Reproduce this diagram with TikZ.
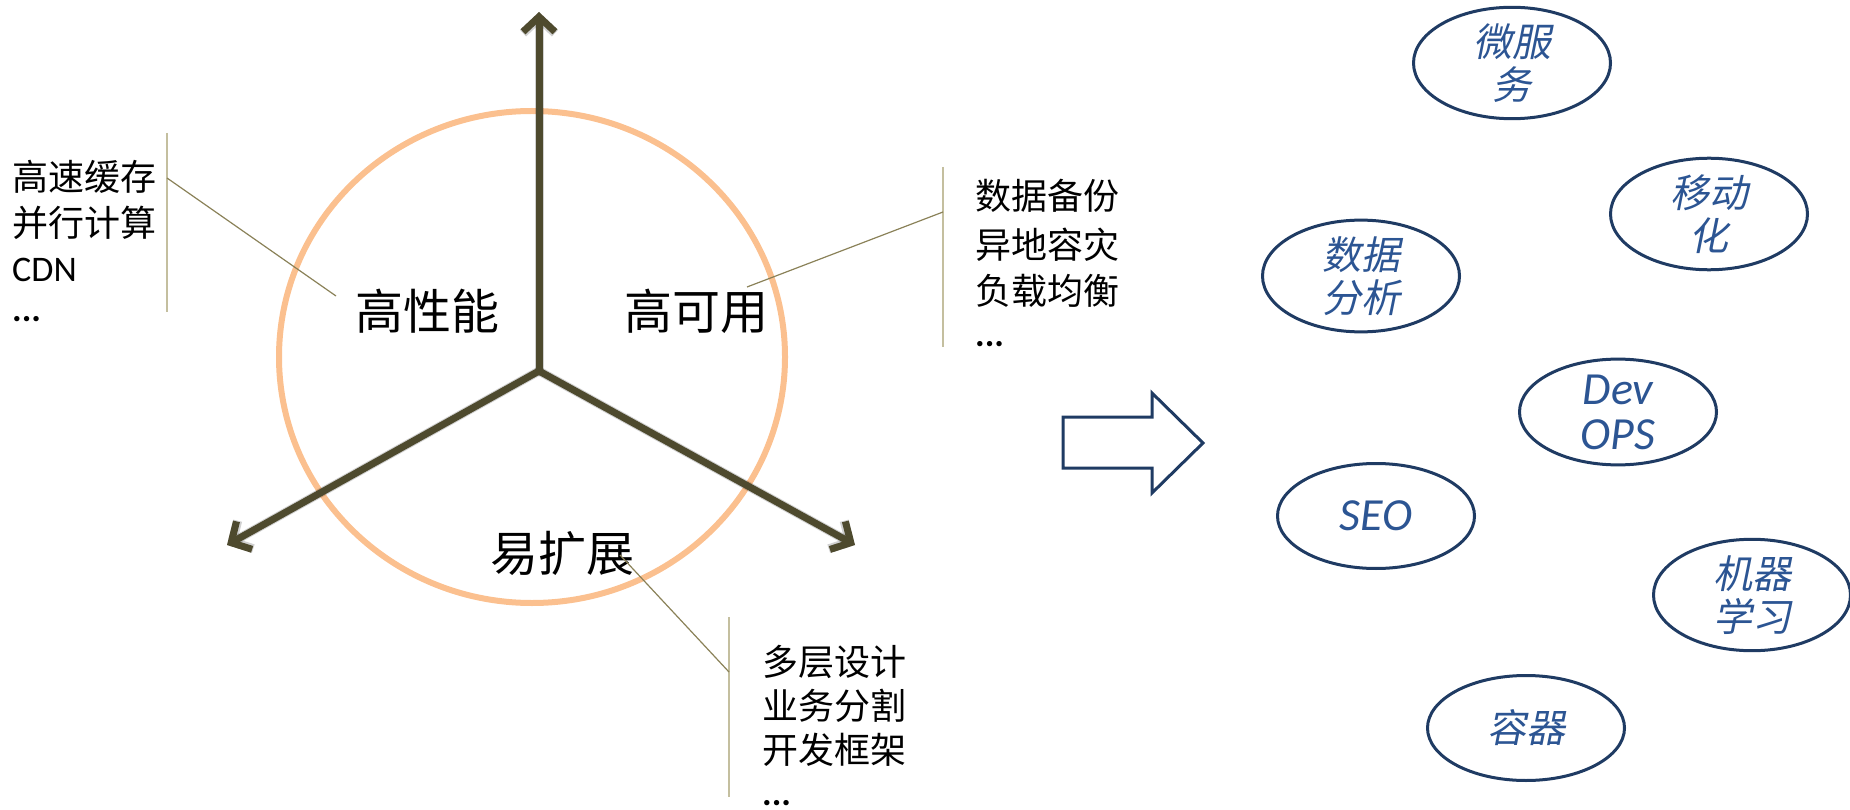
\documentclass[tikz,border=0pt]{standalone}
\usepackage{fontspec}
\setmainfont{Noto Sans CJK SC}
\newfontfamily\calfont{Carlito}
\newfontfamily\cjkit[FakeSlant=0.2]{Noto Sans CJK SC}
\usetikzlibrary{arrows.meta,shapes.geometric}
\definecolor{axiscol}{HTML}{4E4A2E}
\definecolor{ringcol}{HTML}{FBC08F}
\definecolor{barcol}{HTML}{C4BF9F}
\definecolor{conncol}{HTML}{8A8158}
\definecolor{ovalcol}{HTML}{1F3B63}
\definecolor{ovaltext}{HTML}{2C5593}
\tikzset{
  axisline/.style={draw=axiscol, line width=7pt, line cap=round, line join=round,
    -{Straight Barb[length=15pt, width=32pt, line width=7pt]}},
  axisshadow/.style={draw=black, opacity=0.18, line width=9pt, line cap=round,
    -{Straight Barb[length=15pt, width=32pt, line width=9pt]}},
  ring/.style={draw=ringcol, line width=6pt},
  barline/.style={draw=barcol, line width=2pt},
  connline/.style={draw=conncol, line width=1.2pt},
  biglabel/.style={inner sep=0pt, font=\fontsize{48}{56}\selectfont},
  listcjk/.style={inner sep=0pt, anchor=west, font=\fontsize{36}{44}\selectfont},
  listlat/.style={inner sep=0pt, anchor=west, font=\calfont\fontsize{36}{44}\selectfont},
  listdots/.style={inner sep=0pt, anchor=base west, font=\calfont\bfseries\fontsize{36}{44}\selectfont},
  oval/.style={ellipse, draw=ovalcol, line width=3pt, minimum width=197pt,
    minimum height=105pt, inner sep=0pt, align=center, text=ovaltext},
  ovcjk/.style={oval, font=\cjkit\fontsize{39}{43}\selectfont},
  ovlat/.style={oval, font=\calfont\itshape\fontsize{46}{45}\selectfont},
  hollowarrow/.style={draw=ovalcol, line width=3pt, line join=miter, fill=white}
}
\begin{document}
\begin{tikzpicture}[x=1pt,y=-1pt]
\useasboundingbox (0,0) rectangle (1850,810);

% ring
\draw[ring] (532,357) ellipse [x radius=253, y radius=246];

% axes
\coordinate (o) at (539,371);
\coordinate (top) at (539,12);
\coordinate (lefttip) at (227,545);
\coordinate (righttip) at (855,545);
\begin{scope}[shift={(3,5)}]
  \draw[axisshadow] (o) -- (top);
  \draw[axisshadow] (o) -- (lefttip);
  \draw[axisshadow] (o) -- (righttip);
\end{scope}
\draw[axisline] (o) -- (top);
\draw[axisline] (o) -- (lefttip);
\draw[axisline] (o) -- (righttip);

% main labels
\node[biglabel] (perf) at (427,311) {高性能};
\node[biglabel] (avail) at (696,311) {高可用};
\node[biglabel] (scale) at (562,553) {易扩展};

% left list
\node[listcjk] (l1) at (12,177) {高速缓存};
\node[listcjk] (l2) at (12,223) {并行计算};
\node[listlat] (l3) at (12,270) {CDN};
\node[listdots] (l4) at (12,322) {...};
\coordinate (lbt) at (167,133);
\coordinate (lbb) at (167,312);
\coordinate (lbj) at (167,178);
\coordinate (lend) at (336,296);
\draw[barline] (lbt) -- (lbb);
\draw[connline] (lbj) -- (lend);

% right list
\node[listcjk] (r1) at (975,196) {数据备份};
\node[listcjk] (r2) at (975,245) {异地容灾};
\node[listcjk] (r3) at (975,291) {负载均衡};
\node[listdots] (r4) at (975,346) {...};
\coordinate (rbt) at (943,167);
\coordinate (rbb) at (943,347);
\coordinate (rbj) at (943,212);
\coordinate (rend) at (747,287);
\draw[barline] (rbt) -- (rbb);
\draw[connline] (rbj) -- (rend);

% bottom list
\node[listcjk] (b1) at (762,662) {多层设计};
\node[listcjk] (b2) at (762,706) {业务分割};
\node[listcjk] (b3) at (762,750) {开发框架};
\node[listdots] (b4) at (762,805) {...};
\coordinate (bbt) at (729,617);
\coordinate (bbb) at (729,797);
\coordinate (bbj) at (729,672);
\coordinate (bstart) at (620,555);
\draw[barline] (bbt) -- (bbb);
\draw[connline] (bstart) -- (bbj);

% hollow arrow
\draw[hollowarrow] (1063,417) -- (1152,417) -- (1152,393) -- (1203,443)
  -- (1152,493) -- (1152,468) -- (1063,468) -- cycle;

% ovals
\node[ovcjk] (ms) at (1512,63) {微服\\务};
\node[ovcjk] (mob) at (1709,214) {移动\\化};
\node[ovcjk] (da) at (1361,276) {数据\\分析};
\node[ovlat] (dev) at (1618,412) {Dev\\OPS};
\node[ovlat] (seo) at (1376,516) {SEO};
\node[ovcjk] (ml) at (1752,595) {机器\\学习};
\node[ovcjk] (ct) at (1526,728) {容器};
\end{tikzpicture}
\end{document}
